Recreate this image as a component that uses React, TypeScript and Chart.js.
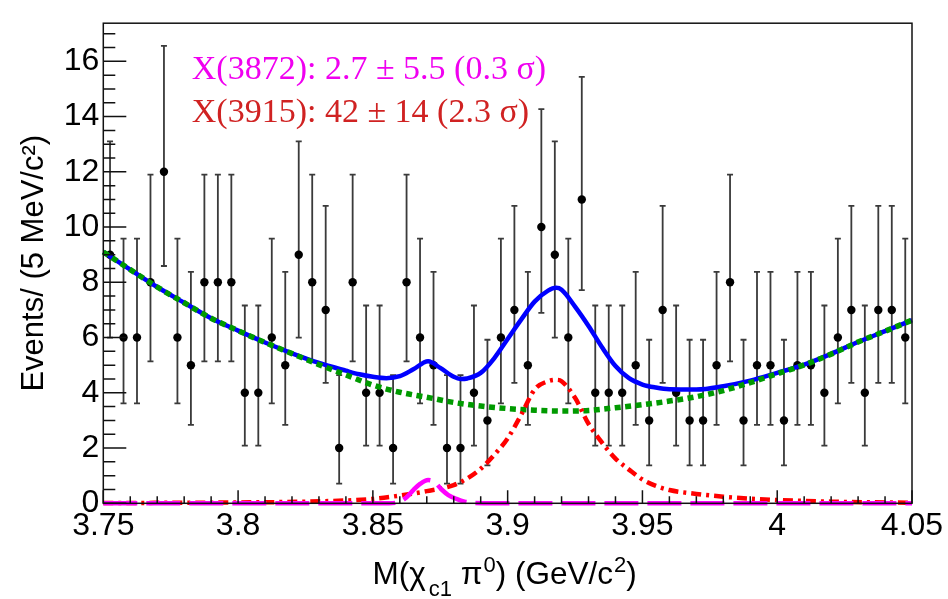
import React, { useEffect, useRef } from 'react';
import { Chart, registerables } from 'chart.js';

Chart.register(...registerables);

// ---------- data ----------
const binCenters = [
  3.7525, 3.7575, 3.7625, 3.7675, 3.7725, 3.7775, 3.7825, 3.7875, 3.7925, 3.7975,
  3.8025, 3.8075, 3.8125, 3.8175, 3.8225, 3.8275, 3.8325, 3.8375, 3.8425, 3.8475,
  3.8525, 3.8575, 3.8625, 3.8675, 3.8725, 3.8775, 3.8825, 3.8875, 3.8925, 3.8975,
  3.9025, 3.9075, 3.9125, 3.9175, 3.9225, 3.9275, 3.9325, 3.9375, 3.9425, 3.9475,
  3.9525, 3.9575, 3.9625, 3.9675, 3.9725, 3.9775, 3.9825, 3.9875, 3.9925, 3.9975,
  4.0025, 4.0075, 4.0125, 4.0175, 4.0225, 4.0275, 4.0325, 4.0375, 4.0425, 4.0475,
];
const counts = [
  9, 6, 6, 8, 12, 6, 5, 8, 8, 8,
  4, 4, 6, 5, 9, 8, 7, 2, 8, 4,
  4, 2, 8, 6, 5, 2, 2, 4, 3, 6,
  7, 5, 10, 9, 6, 11, 4, 4, 4, 5,
  3, 7, 4, 3, 3, 5, 8, 3, 5, 5,
  3, 5, 5, 4, 6, 7, 4, 7, 7, 6,
];
// error-bar ends (asymmetric) read per count value
const errCounts = [2, 3, 4, 5, 6, 7, 8, 9, 10, 11, 12];
const errLow = [0.71, 1.37, 2.09, 2.84, 3.62, 4.36, 5.14, 6.0, 6.89, 7.72, 8.59];
const errHigh = [4.64, 5.92, 7.16, 8.38, 9.58, 10.77, 11.9, 13.1, 14.27, 15.44, 16.56];

// background (green dotted)
const bkgX = [3.75, 3.76, 3.77, 3.78, 3.79, 3.8, 3.81, 3.82, 3.83, 3.84, 3.85, 3.86, 3.87, 3.88, 3.89, 3.9,
  3.91, 3.92, 3.93, 3.94, 3.95, 3.96, 3.97, 3.98, 3.99, 4.0, 4.01, 4.02, 4.03, 4.04, 4.05];
const bkgY = [9.1, 8.46, 7.83, 7.26, 6.7, 6.25, 5.82, 5.42, 5.02, 4.65, 4.28, 4.02, 3.84, 3.65, 3.52, 3.43,
  3.37, 3.34, 3.36, 3.46, 3.57, 3.7, 3.86, 4.08, 4.37, 4.69, 5.01, 5.4, 5.84, 6.23, 6.63];

// total fit (blue)
const totX = [3.75, 3.76, 3.77, 3.78, 3.79, 3.8, 3.81, 3.82, 3.83, 3.84, 3.845, 3.85, 3.855, 3.86, 3.865,
  3.8705, 3.875, 3.88, 3.8825, 3.885, 3.89, 3.895, 3.9, 3.905, 3.91, 3.915, 3.918, 3.92, 3.925, 3.93,
  3.935, 3.94, 3.945, 3.95, 3.955, 3.96, 3.97, 3.98, 3.99, 4.0, 4.01, 4.02, 4.03, 4.04, 4.05];
const totY = [9.1, 8.46, 7.83, 7.26, 6.7, 6.25, 5.82, 5.43, 5.08, 4.8, 4.67, 4.58, 4.53, 4.6, 4.85,
  5.14, 4.9, 4.58, 4.5, 4.52, 4.72, 5.25, 5.95, 6.65, 7.3, 7.7, 7.8, 7.73, 7.12, 6.42,
  5.65, 4.97, 4.53, 4.3, 4.19, 4.13, 4.12, 4.24, 4.44, 4.72, 5.02, 5.41, 5.84, 6.23, 6.63];

// X(3915) signal (red dash-dot)
const x3915X = [3.75, 3.8, 3.83, 3.85, 3.86, 3.87, 3.88, 3.885, 3.89, 3.895, 3.9, 3.905, 3.91, 3.915, 3.918,
  3.92, 3.925, 3.93, 3.935, 3.94, 3.945, 3.95, 3.955, 3.96, 3.97, 3.98, 3.99, 4.0, 4.02, 4.05];
const x3915Y = [0.01, 0.03, 0.07, 0.16, 0.28, 0.44, 0.66, 0.9, 1.25, 1.75, 2.35, 3.2, 4.12, 4.42, 4.47,
  4.42, 3.82, 2.88, 2.2, 1.62, 1.22, 0.86, 0.63, 0.48, 0.34, 0.24, 0.17, 0.12, 0.06, 0.02];

// X(3872) signal (magenta dashed)
const x3872X = [3.75, 3.856, 3.86, 3.8625, 3.865, 3.8675, 3.8705, 3.873, 3.8755, 3.878, 3.881, 3.884, 3.888, 3.895, 4.05];
const x3872Y = [0, 0, 0.06, 0.22, 0.48, 0.7, 0.84, 0.76, 0.5, 0.3, 0.16, 0.06, 0.01, 0, 0];

const xTickValues = [3.75, 3.8, 3.85, 3.9, 3.95, 4.0, 4.05];
const yTickValues = [0, 2, 4, 6, 8, 10, 12, 14, 16];
const xMinorStep = 0.01;
const yMinorStep = 0.5;

const annotationLines = [
  { text: 'X(3872): 2.7 \u00B1 5.5 (0.3 \u03C3)', color: '#f000f0' },
  { text: 'X(3915): 42 \u00B1 14 (2.3 \u03C3)', color: '#d02222' },
];

const SANS = "'Liberation Sans', Arial, Helvetica, sans-serif";
const SERIF = "'Liberation Serif', 'Times New Roman', serif";

const pts = (xs: number[], ys: number[]) => xs.map((x, i) => ({ x, y: ys[i] }));

const errorBarPlugin = {
  id: 'errbars',
  beforeDatasetsDraw(chart: any) {
    const { ctx, scales } = chart;
    const xs = scales.x, ys = scales.y;
    ctx.save();
    ctx.strokeStyle = '#3a3a3a';
    ctx.lineWidth = 1.8;
    binCenters.forEach((c, i) => {
      const k = errCounts.indexOf(counts[i]);
      if (k < 0) return;
      const px = xs.getPixelForValue(c);
      const yl = ys.getPixelForValue(errLow[k]);
      const yh = ys.getPixelForValue(errHigh[k]);
      ctx.beginPath();
      ctx.moveTo(px, yl); ctx.lineTo(px, yh);
      ctx.moveTo(px - 3, yl); ctx.lineTo(px + 3, yl);
      ctx.moveTo(px - 3, yh); ctx.lineTo(px + 3, yh);
      ctx.stroke();
    });
    ctx.restore();
  },
};

const framePlugin = {
  id: 'frame',
  afterDatasetsDraw(chart: any) {
    const { ctx, chartArea: a, scales } = chart;
    const xs = scales.x, ys = scales.y;
    ctx.save();
    ctx.strokeStyle = '#111';
    ctx.lineWidth = 1.5;
    ctx.strokeRect(a.left, a.top, a.right - a.left, a.bottom - a.top);
    ctx.beginPath();
    for (let v = xs.min; v <= xs.max + 1e-9; v += xMinorStep) {
      const px = xs.getPixelForValue(v);
      const major = xTickValues.some((t) => Math.abs(t - v) < 1e-6);
      ctx.moveTo(px, a.bottom);
      ctx.lineTo(px, a.bottom - (major ? 13 : 7));
    }
    for (let v = 0; v <= ys.max + 1e-9; v += yMinorStep) {
      const py = ys.getPixelForValue(v);
      const major = yTickValues.some((t) => Math.abs(t - v) < 1e-6);
      ctx.moveTo(a.left, py);
      ctx.lineTo(a.left + (major ? 23 : 12), py);
    }
    ctx.stroke();
    ctx.restore();
  },
};

const textPlugin = {
  id: 'texts',
  afterDraw(chart: any) {
    const { ctx, chartArea: a } = chart;
    ctx.save();
    ctx.font = `34px ${SERIF}`;
    ctx.textAlign = 'left';
    ctx.textBaseline = 'alphabetic';
    annotationLines.forEach((l, i) => {
      ctx.fillStyle = l.color;
      ctx.fillText(l.text, a.left + 88.5, a.top + 55.5 + i * 43);
    });
    const big = 31.5, small = 22;
    const parts = [
      { t: 'M(\u03C7', s: big, dy: 0, gap: 0 },
      { t: 'c1', s: small, dy: 12, gap: 3 },
      { t: ' \u03C0', s: big, dy: 0, gap: 0 },
      { t: '0', s: small, dy: -12.5, gap: 1 },
      { t: ') (GeV/c', s: big, dy: 0, gap: 0 },
      { t: '2', s: small, dy: -12.5, gap: 1 },
      { t: ')', s: big, dy: 0, gap: 0 },
    ];
    let total = 0;
    parts.forEach((p) => {
      ctx.font = `${p.s}px ${SANS}`;
      total += p.gap + ctx.measureText(p.t).width;
    });
    let x = (a.left + a.right) / 2 - total / 2 - 3;
    const base = chart.height - 15;
    ctx.fillStyle = '#000';
    parts.forEach((p) => {
      ctx.font = `${p.s}px ${SANS}`;
      x += p.gap;
      ctx.fillText(p.t, x, base + p.dy);
      x += ctx.measureText(p.t).width;
    });
    ctx.restore();
  },
};

export default function App() {
  const ref = useRef<HTMLCanvasElement | null>(null);
  useEffect(() => {
    if (!ref.current) return;
    const lineCommon = {
      pointRadius: 0,
      fill: false,
      cubicInterpolationMode: 'monotone' as const,
      clip: 8,
    };
    const chart = new Chart(ref.current, {
      type: 'line',
      data: {
        datasets: [
          {
            ...lineCommon,
            label: 'X(3872)',
            data: pts(x3872X, x3872Y),
            borderColor: '#ff00ff',
            borderWidth: 4.5,
            borderDash: [34, 9],
            order: 0,
          },
          {
            ...lineCommon,
            label: 'X(3915)',
            data: pts(x3915X, x3915Y),
            borderColor: '#ff0000',
            borderWidth: 4.5,
            borderDash: [10, 5, 3, 5],
            order: 1,
          },
          {
            ...lineCommon,
            label: 'Background',
            data: pts(bkgX, bkgY),
            borderColor: '#009a00',
            borderWidth: 5.5,
            borderDash: [6, 4.5],
            order: 2,
          },
          {
            ...lineCommon,
            label: 'Total fit',
            data: pts(totX, totY),
            borderColor: '#0000ff',
            borderWidth: 4.5,
            order: 3,
          },
          {
            label: 'Data',
            data: pts(binCenters, counts),
            showLine: false,
            pointRadius: 4.2,
            pointBorderWidth: 0,
            pointBackgroundColor: '#000',
            borderColor: '#000',
            order: 4,
          },
        ] as any,
      },
      options: {
        animation: false,
        responsive: false,
        maintainAspectRatio: false,
        layout: { padding: { left: 0, right: 36, top: 10, bottom: 0 } },
        plugins: { legend: { display: false }, tooltip: { enabled: false } },
        scales: {
          x: {
            type: 'linear',
            min: 3.75,
            max: 4.05,
            grid: { display: false, drawTicks: false },
            border: { display: false },
            ticks: {
              color: '#000',
              font: { family: SANS, size: 32 },
              padding: 4,
              maxRotation: 0,
              autoSkip: false,
              callback: (v: any) => String(+Number(v).toFixed(2)),
            },
            afterBuildTicks: (s: any) => {
              s.ticks = xTickValues.map((v) => ({ value: v }));
            },
            afterFit: (s: any) => {
              s.height = 95.7;
            },
          },
          y: {
            type: 'linear',
            min: 0,
            max: 17.38,
            grid: { display: false, drawTicks: false },
            border: { display: false },
            ticks: {
              color: '#000',
              font: { family: SANS, size: 32 },
              padding: 4,
              autoSkip: false,
            },
            afterBuildTicks: (s: any) => {
              s.ticks = yTickValues.map((v) => ({ value: v }));
            },
            afterFit: (s: any) => {
              s.width = 103.3;
            },
            title: {
              display: true,
              text: 'Events/ (5 MeV/c\u00B2)',
              color: '#000',
              font: { family: SANS, size: 31 },
              padding: { top: 16, bottom: 0 },
            },
          },
        },
      },
      plugins: [errorBarPlugin, framePlugin, textPlugin],
    } as any);
    return () => chart.destroy();
  }, []);
  return (
    <div style={{ position: 'fixed', left: 0, top: 0, width: 948, height: 599, background: '#fff' }}>
      <canvas ref={ref} width={948} height={599} style={{ display: 'block' }} />
    </div>
  );
}
